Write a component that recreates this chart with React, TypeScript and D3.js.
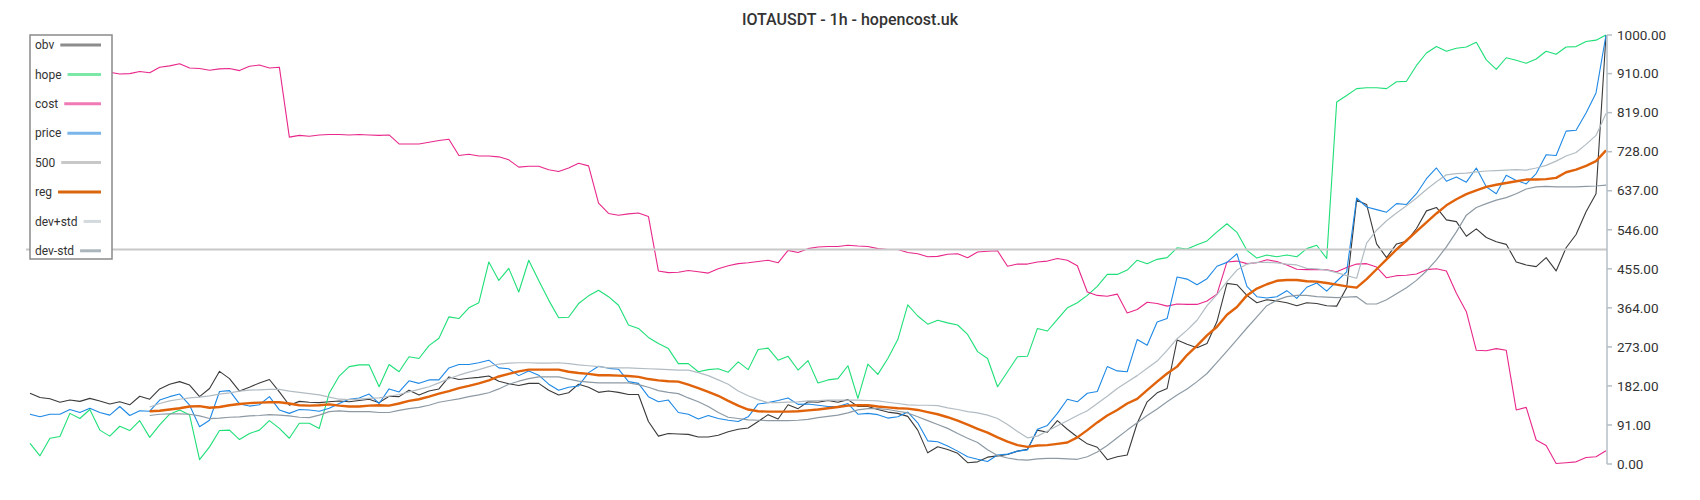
import React, { useMemo } from 'react';
import * as d3 from 'd3';

const TITLE = 'IOTAUSDT - 1h - hopencost.uk';
const yTicks = [0, 91, 182, 273, 364, 455, 546, 637, 728, 819, 910, 1000];
const legendNames = ['obv', 'hope', 'cost', 'price', '500', 'reg', 'dev+std', 'dev-std'];
const level500 = 500;

const obv = [
  165, 155, 152, 144, 149, 146, 153, 147, 140, 145, 138, 158, 151, 175, 186, 192, 184, 157, 176, 216, 199, 170, 179, 189, 197, 168, 137, 146, 144, 143, 145, 147,
  145, 148, 151, 143, 158, 157, 172, 161, 170, 175, 203, 197, 200, 202, 205, 193, 187, 183, 188, 188, 172, 161, 166, 186, 179, 167, 170, 167, 162, 162, 99, 65,
  71, 70, 69, 63, 63, 67, 75, 81, 84, 99, 115, 105, 138, 129, 145, 144, 148, 144, 150, 134, 134, 127, 121, 118, 111, 79, 26, 40, 34, 25, 3, 5,
  16, 19, 22, 30, 34, 79, 74, 101, 81, 63, 47, 39, 10, 17, 21, 95, 145, 166, 176, 289, 279, 271, 281, 332, 421, 418, 393, 376, 383, 380, 376, 369,
  376, 374, 369, 368, 411, 615, 605, 513, 481, 513, 519, 549, 590, 598, 569, 565, 531, 548, 528, 518, 512, 471, 464, 460, 481, 450, 504, 535, 588, 630, 1000,
];

const hope = [
  48, 19, 60, 64, 118, 106, 127, 79, 65, 88, 78, 101, 62, 91, 116, 126, 114, 10, 40, 78, 79, 57, 71, 79, 101, 83, 60, 95, 95, 83, 165, 205,
  227, 231, 231, 180, 232, 215, 250, 246, 276, 293, 343, 339, 364, 376, 471, 428, 456, 401, 475, 428, 382, 341, 342, 374, 392, 405, 390, 370, 324, 316, 295, 281,
  269, 234, 234, 215, 220, 222, 214, 238, 220, 267, 270, 242, 251, 219, 241, 189, 196, 199, 229, 153, 233, 209, 246, 290, 371, 345, 326, 335, 329, 324, 302, 262,
  246, 180, 215, 250, 251, 316, 310, 337, 364, 376, 393, 414, 442, 442, 452, 475, 467, 477, 481, 504, 501, 511, 520, 541, 560, 540, 498, 480, 487, 483, 487, 483,
  502, 510, 479, 844, 859, 875, 877, 877, 875, 891, 892, 929, 958, 973, 962, 969, 972, 983, 942, 920, 947, 941, 934, 944, 962, 955, 972, 973, 985, 988, 1000,
];

const cost = [
  912, 910, 908, 911, 913, 909, 911, 913, 913, 909, 910, 915, 912, 925, 928, 933, 923, 922, 918, 921, 922, 917, 927, 930, 923, 925, 762, 766, 764, 767, 768, 768,
  767, 768, 767, 766, 767, 746, 746, 746, 750, 754, 757, 719, 722, 718, 718, 716, 709, 692, 694, 694, 686, 682, 690, 701, 695, 608, 584, 580, 583, 585, 577, 450,
  446, 447, 451, 448, 445, 455, 462, 467, 469, 472, 475, 469, 498, 493, 502, 506, 507, 507, 510, 508, 507, 502, 500, 500, 493, 490, 483, 484, 489, 490, 481, 494,
  496, 497, 461, 466, 466, 471, 473, 479, 475, 462, 401, 393, 391, 396, 352, 360, 377, 374, 368, 373, 372, 372, 380, 396, 471, 473, 467, 469, 476, 472, 464, 454,
  453, 453, 453, 448, 458, 466, 467, 459, 434, 439, 440, 443, 453, 455, 450, 398, 355, 265, 264, 269, 265, 126, 132, 56, 43, 1, 3, 5, 15, 17, 31,
];

const price = [
  116, 110, 116, 116, 127, 120, 130, 120, 114, 134, 113, 124, 123, 149, 157, 163, 137, 87, 102, 169, 171, 140, 135, 138, 157, 126, 118, 127, 126, 123, 130, 141,
  151, 154, 163, 141, 175, 168, 194, 188, 196, 196, 224, 232, 232, 236, 242, 224, 222, 206, 217, 207, 186, 172, 179, 182, 213, 228, 223, 221, 192, 188, 157, 145,
  149, 120, 116, 105, 113, 106, 102, 99, 110, 140, 143, 148, 154, 139, 140, 137, 134, 134, 141, 116, 118, 115, 107, 110, 121, 96, 54, 52, 42, 30, 17, 11,
  6, 21, 23, 30, 33, 81, 90, 118, 151, 145, 165, 169, 227, 217, 215, 290, 277, 331, 339, 436, 431, 418, 432, 461, 470, 490, 414, 390, 387, 390, 404, 386,
  412, 422, 403, 426, 448, 620, 599, 593, 587, 607, 605, 630, 665, 690, 659, 669, 657, 690, 646, 630, 673, 661, 653, 677, 721, 719, 776, 778, 818, 865, 1000,
];

const N12 = [null, null, null, null, null, null, null, null, null, null, null, null];

const reg = [
  ...N12,
  123, 124, 127, 130, 134, 135, 131, 133, 137, 140, 142, 143, 144, 144, 141, 137, 136, 137, 139, 136,
  134, 134, 136, 137, 136, 141, 147, 151, 157, 164, 170, 177, 182, 188, 195, 204, 210, 216, 220, 220, 220, 220, 215, 212, 210, 207, 207, 206, 205, 203, 198, 195,
  193, 192, 185, 177, 168, 159, 147, 136, 127, 123, 122, 122, 122, 123, 125, 127, 130, 133, 136, 137, 137, 134, 132, 130, 129, 126, 121, 116, 109, 101, 92, 82,
  73, 62, 52, 44, 40, 43, 44, 47, 50, 62, 79, 97, 113, 126, 141, 152, 172, 192, 211, 227, 254, 276, 300, 320, 348, 366, 393, 409, 419, 427, 429, 429,
  426, 425, 422, 418, 414, 411, 431, 454, 477, 500, 521, 542, 563, 584, 603, 617, 629, 638, 646, 651, 655, 659, 663, 663, 664, 667, 680, 686, 695, 706, 731,
];

const devPlus = [
  ...N12,
  133, 141, 147, 151, 154, 156, 159, 163, 166, 170, 172, 173, 174, 174, 170, 167, 164, 161, 156, 151,
  150, 151, 153, 154, 158, 162, 168, 174, 180, 189, 199, 207, 214, 220, 227, 233, 235, 236, 236, 235, 235, 236, 234, 231, 229, 227, 224, 224, 224, 223, 222, 221,
  220, 219, 219, 213, 206, 196, 186, 170, 159, 150, 143, 143, 144, 145, 147, 148, 149, 149, 149, 149, 148, 147, 144, 141, 138, 137, 137, 136, 131, 127, 122, 119,
  114, 106, 92, 76, 61, 65, 77, 89, 101, 113, 124, 141, 158, 176, 191, 206, 223, 240, 265, 292, 312, 335, 369, 395, 425, 452, 466, 470, 470, 469, 466, 464,
  456, 455, 452, 446, 439, 433, 515, 545, 567, 585, 602, 620, 640, 658, 674, 677, 678, 681, 683, 684, 685, 686, 685, 690, 696, 706, 718, 726, 745, 766, 817,
];

const devMinus = [
  ...N12,
  113, 116, 117, 117, 116, 112, 106, 107, 109, 110, 112, 113, 115, 114, 112, 109, 108, 114, 122, 124,
  122, 122, 122, 120, 120, 125, 129, 132, 137, 144, 148, 152, 157, 161, 166, 175, 186, 193, 199, 203, 203, 203, 198, 193, 191, 189, 189, 189, 189, 185, 179, 171,
  167, 164, 154, 145, 134, 120, 109, 106, 103, 102, 101, 101, 101, 102, 104, 108, 111, 114, 119, 126, 129, 129, 127, 123, 119, 110, 101, 92, 83, 71, 60, 50,
  33, 20, 14, 10, 9, 12, 13, 13, 12, 11, 17, 28, 43, 61, 79, 96, 113, 128, 145, 161, 175, 192, 211, 237, 263, 290, 317, 343, 369, 382, 390, 393,
  393, 390, 389, 388, 389, 390, 373, 373, 383, 397, 411, 428, 450, 476, 506, 541, 580, 598, 607, 615, 621, 630, 641, 646, 647, 646, 646, 646, 647, 648, 650,
];

const FONT = 'Roboto, "Noto Sans", sans-serif';

export default function App() {
  const W = 1700;
  const H = 500;
  const n = obv.length;
  const x = d3.scaleLinear().domain([0, n - 1]).range([30, 1606]);
  const y = d3.scaleLinear().domain([0, 1000]).range([464, 35]);
  const axisX = 1607;

  const lineGen = d3
    .line<number | null>()
    .defined((d) => d != null)
    .x((_, i) => x(i))
    .y((d) => y(d as number));

  const series = [
    { name: 'obv', data: obv, color: '#3a3a3a', width: 1.1, legend: '#8c8c8c' },
    { name: 'hope', data: hope, color: '#1fdf78', width: 1.1, legend: '#7ce8a8' },
    { name: 'cost', data: cost, color: '#e8288a', width: 1.1, legend: '#f07ab6' },
    { name: 'price', data: price, color: '#1e88e5', width: 1.1, legend: '#7ab6ea' },
    { name: '500', data: null, color: '#c8c8c8', width: 2, legend: '#c8c8c8' },
    { name: 'reg', data: reg, color: '#e0620a', width: 2.4, legend: '#d9650c' },
    { name: 'dev+std', data: devPlus, color: '#b2bcc3', width: 1.2, legend: '#d3d9dd' },
    { name: 'dev-std', data: devMinus, color: '#8d9aa4', width: 1.2, legend: '#aab5bc' },
  ];

  const widths = useMemo(() => {
    const c = document.createElement('canvas').getContext('2d');
    if (!c) return legendNames.map((s) => s.length * 6.5);
    c.font = '12px Roboto';
    return legendNames.map((s) => c.measureText(s).width);
  }, []);

  const legX = 30;
  const legY = 35;
  const legW = 82;
  const legH = 224;
  const rowY = (k: number) => 45 + k * 29.4;

  return (
    <div style={{ position: 'absolute', left: 0, top: 0 }}>
      <svg width={W} height={H} style={{ display: 'block', background: '#fff' }} fontFamily={FONT}>
        <text x={850} y={25} textAnchor="middle" fontSize={16} fontWeight={500} fill="#333">
          {TITLE}
        </text>

        {series.map((s) =>
          s.data ? (
            <path
              key={s.name}
              d={lineGen(s.data as (number | null)[]) || ''}
              fill="none"
              stroke={s.color}
              strokeWidth={s.width}
              strokeLinejoin="round"
            />
          ) : (
            <line
              key={s.name}
              x1={26}
              x2={axisX}
              y1={y(level500)}
              y2={y(level500)}
              stroke={s.color}
              strokeWidth={s.width}
            />
          )
        )}

        {/* right axis */}
        <line x1={axisX} x2={axisX} y1={y(1000)} y2={y(0)} stroke="#b4bfc6" strokeWidth={1.5} />
        {yTicks.map((t) => (
          <g key={t} transform={`translate(${axisX},${y(t)})`}>
            <line x1={0} x2={5} stroke="#b4bfc6" strokeWidth={1.5} />
            <text x={10} dy="0.35em" fontSize={13.5} fill="#333">
              {t.toFixed(2)}
            </text>
          </g>
        ))}

        {/* legend */}
        <rect x={legX} y={legY} width={legW} height={legH} fill="#fff" stroke="#8a8a8a" strokeWidth={1.5} />
        {series.map((s, k) => (
          <g key={'lg' + s.name}>
            <text x={35} y={rowY(k)} dy="0.35em" fontSize={12} fill="#333">
              {legendNames[k]}
            </text>
            <line
              x1={35 + widths[k] + 6}
              x2={101}
              y1={rowY(k)}
              y2={rowY(k)}
              stroke={s.legend}
              strokeWidth={3}
            />
          </g>
        ))}
      </svg>
    </div>
  );
}
